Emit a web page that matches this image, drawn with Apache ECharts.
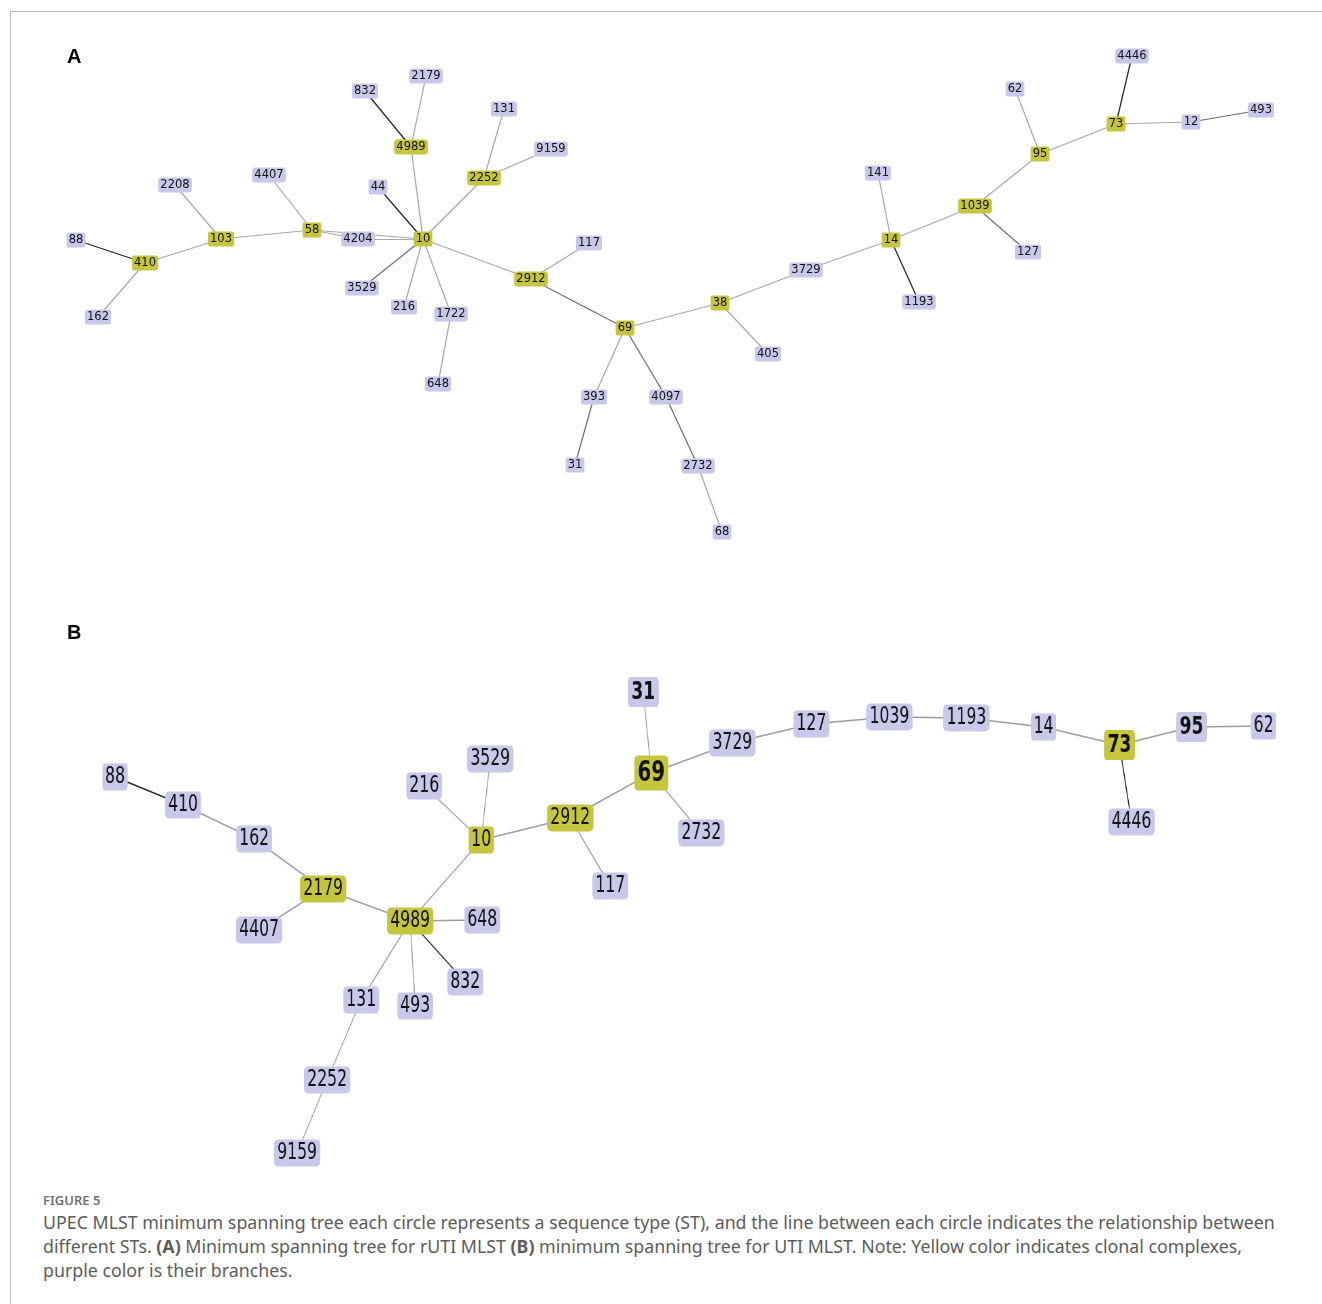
<!DOCTYPE html>
<html>
<head>
<meta charset="utf-8">
<script src="https://cdn.jsdelivr.net/npm/echarts@6/dist/echarts.min.js"></script>
<style>
html,body{margin:0;padding:0;background:#fff;}
#wrap{position:relative;width:1322px;height:1304px;overflow:hidden;}
#frame{position:absolute;left:10px;top:11px;width:1320px;height:1300px;border-top:1px solid #b8b8b8;border-left:1px solid #b8b8b8;}
#chartA{position:absolute;left:0;top:0;width:1322px;height:600px;}
/* panel B: the original image is squeezed horizontally, so the canvas is wider and scaled back */
#chartB{position:absolute;left:0;top:600px;width:1945px;height:580px;transform:scaleX(0.68);transform-origin:0 0;}
#cap{position:absolute;left:43px;top:1190px;font-family:"Noto Sans","Open Sans",sans-serif;color:#5c5c5c;white-space:nowrap;}
#cap .fig{font-size:13px;font-weight:600;color:#707070;line-height:20px;}
#cap .txt{font-size:17.8px;line-height:24px;}
</style>
</head>
<body>
<div id="wrap">
  <div id="frame"></div>
  <div id="chartA"></div>
  <div id="chartB"></div>
  <div id="cap">
    <div class="fig">FIGURE 5</div>
    <div class="txt">UPEC MLST minimum spanning tree each circle represents a sequence type (ST), and the line between each circle indicates the relationship between<br>different STs. <b>(A)</b> Minimum spanning tree for rUTI MLST <b>(B)</b> minimum spanning tree for UTI MLST. Note: Yellow color indicates clonal complexes,<br>purple color is their branches.</div>
  </div>
</div>
<script>
// ---- panel A : rUTI MLST (positions, page pixels)
const aNames = ['88','410','162','103','2208','58','4407','4204','10','44','3529','216','1722','648','4989','832','2179','2252','131','9159','2912','117','69','393','31','4097','2732','68','38','405','3729','14','141','1193','1039','127','95','62','73','4446','12','493']
const aX = [76,145,98,221,175,312,269,358,423,378,362,404,451,438,411,365,426,484,504,551,531,589,625,594,575,666,698,722,720,768,806,891,878,919,975,1028,1040,1015,1116,1132,1191,1261]
const aY = [240,263,317,239,185,230,175,239,239,187,288,307,314,384,147,91,76,178,109,149,279,243,328,397,465,397,466,532,303,354,270,240,173,302,206,252,154,89,124,56,122,110]
const aClonal = ['410','103','58','10','4989','2252','2912','69','38','14','1039','95','73']
const aLinks = [['88','410'],['410','162'],['410','103'],['103','2208'],['103','58'],['58','4407'],['58','4204'],['58','10'],['4204','10'],
  ['10','44'],['10','3529'],['10','216'],['10','1722'],['1722','648'],['10','4989'],['4989','832'],['4989','2179'],['10','2252'],['2252','131'],['2252','9159'],
  ['10','2912'],['2912','117'],['2912','69'],['69','393'],['393','31'],['69','4097'],['4097','2732'],['2732','68'],['69','38'],['38','405'],['38','3729'],
  ['3729','14'],['14','141'],['14','1193'],['14','1039'],['1039','127'],['1039','95'],['95','62'],['95','73'],['73','4446'],['73','12'],['12','493']]
const aDark = ['88-410','10-44','4989-832','14-1193','73-4446']
const aMid = ['10-3529','2912-69','69-4097','393-31','1039-127','12-493','4097-2732']

// ---- panel B : UTI MLST (page pixels, y measured from the top of the page)
const bNames = ['88','410','162','2179','4407','4989','648','832','493','131','2252','9159','10','216','3529','2912','117','69','31','2732','3729','127','1039','1193','14','73','95','62','4446']
const bX = [115,183,254,323,259,410,482,465,415,361,327,297,481,424,490,570,610,651,643,701,732,811,889,966,1043,1119,1191,1263,1131]
const bY = [777,805,839,889,930,921,920,982,1006,1000,1080,1153,840,786,759,818,886,773,692,833,743,724,717,718,727,745,727,726,822]
const bClonal = ['2179','4989','10','2912','69','73']
const bBold = ['31','69','73','95']
const bLinks = [['88','410'],['410','162'],['162','2179'],['2179','4407'],['2179','4989'],['4989','648'],['4989','832'],['4989','493'],['4989','131'],
  ['131','2252'],['2252','9159'],['4989','10'],['10','216'],['10','3529'],['10','2912'],['2912','117'],['2912','69'],['69','31'],['69','2732'],['69','3729'],
  ['3729','127'],['127','1039'],['1039','1193'],['1193','14'],['14','73'],['73','95'],['95','62'],['73','4446']]
const bDark = ['88-410','4989-832','73-4446']

const YELLOW = '#c5c53e'
const PURPLE = '#c8c8ea'
const SQUEEZE = 0.68 // horizontal scale of panel B
const BOX = 'path://M4,0L36,0Q40,0 40,4L40,16Q40,20 36,20L4,20Q0,20 0,16L0,4Q0,0 4,0Z'

function buildA(){
  const data = aNames.map((n, i) => ({
    name: n,
    value: [aX[i], aY[i]],
    symbolSize: [n.length * 7.4 + 4, 15],
    itemStyle: { color: aClonal.includes(n) ? YELLOW : PURPLE }
  }))
  const links = aLinks.map(l => {
    const k = l[0] + '-' + l[1]
    let c = '#a8a8a8'
    if (aDark.includes(k)) c = '#222'
    else if (aMid.includes(k)) c = '#6e6e6e'
    return { source: l[0], target: l[1], lineStyle: { color: c } }
  })
  return { data, links }
}

function buildB(){
  const data = bNames.map((n, i) => {
    const bold = bBold.includes(n)
    let w = n.length * 10.6 + 4
    let h = 27
    if (bold) { w = n === '69' ? 34 : 31; h = n === '69' ? 35 : 30 }
    return {
      name: n,
      value: [bX[i], bY[i]],
      symbolSize: [w / SQUEEZE, h],
      itemStyle: { color: bClonal.includes(n) ? YELLOW : PURPLE },
      label: bold ? { fontWeight: 'bold', fontSize: n === '69' ? 29 : 25 } : {}
    }
  })
  const links = bLinks.map(l => {
    const k = l[0] + '-' + l[1]
    return { source: l[0], target: l[1], lineStyle: { color: bDark.includes(k) ? '#222' : '#9c9c9c' } }
  })
  return { data, links }
}

const baseSeries = {
  type: 'graph',
  layout: 'none',
  coordinateSystem: 'cartesian2d',
  xAxisIndex: 0,
  yAxisIndex: 0,
  symbol: BOX,
  silent: true,
  emphasis: { disabled: true },
  edgeSymbol: ['none', 'none'],
  lineStyle: { width: 1.2, opacity: 1, curveness: 0 }
}

const A = buildA()
const B = buildB()

const chartA = echarts.init(document.getElementById('chartA'))
chartA.setOption({
  animation: false,
  grid: { left: 0, right: 0, top: 0, bottom: 0 },
  xAxis: { type: 'value', min: 0, max: 1322, show: false },
  yAxis: { type: 'value', min: 0, max: 600, inverse: true, show: false },
  graphic: [
    { type: 'text', left: 67, top: 47, style: { text: 'A', font: 'bold 20px "Liberation Sans", Arial', fill: '#000' } }
  ],
  series: [
    Object.assign({}, baseSeries, {
      name: 'rUTI',
      data: A.data,
      links: A.links,
      label: { show: true, position: 'inside', color: '#111', fontSize: 11.5, fontFamily: 'DejaVu Sans', formatter: '{b}' }
    })
  ]
})

const chartB = echarts.init(document.getElementById('chartB'))
chartB.setOption({
  animation: false,
  grid: { left: 0, right: 0, top: 0, bottom: 0 },
  xAxis: { type: 'value', min: 0, max: 1322, show: false },
  yAxis: { type: 'value', min: 600, max: 1180, inverse: true, show: false },
  graphic: [
    { type: 'text', left: 67 / SQUEEZE, top: 23, style: { text: 'B', font: 'bold 20px "Liberation Sans", Arial', fill: '#000' }, scaleX: 1 / SQUEEZE }
  ],
  series: [
    Object.assign({}, baseSeries, {
      name: 'UTI',
      data: B.data,
      links: B.links,
      lineStyle: { width: 1.4, opacity: 1, curveness: 0 },
      label: { show: true, position: 'inside', color: '#111', fontSize: 23, fontFamily: '"DejaVu Sans"', formatter: '{b}' }
    })
  ]
})
</script>
</body>
</html>
